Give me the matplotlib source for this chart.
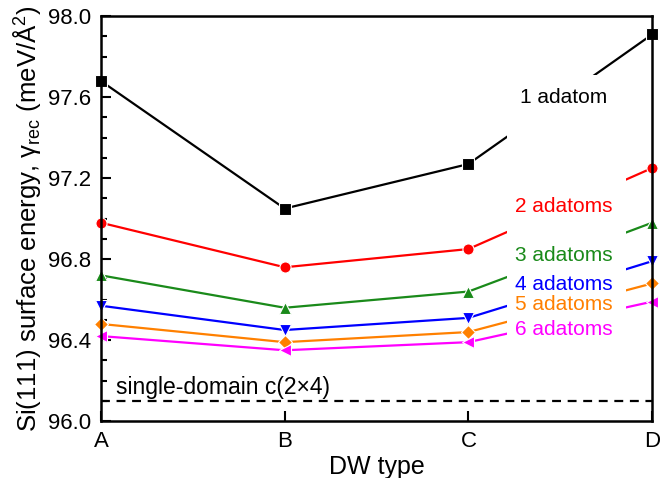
# Si(111) surface energy vs DW type

# Importing libraries
import matplotlib
matplotlib.use("Agg")
import matplotlib.pyplot as plt
from matplotlib.patches import Rectangle
from matplotlib.ticker import MultipleLocator, FormatStrFormatter

# Data
dw_types = ["A", "B", "C", "D"]
one_adatom = [97.68, 97.05, 97.27, 97.91]
two_adatoms = [96.98, 96.76, 96.85, 97.25]
three_adatoms = [96.72, 96.56, 96.64, 96.98]
four_adatoms = [96.57, 96.45, 96.51, 96.79]
five_adatoms = [96.48, 96.39, 96.44, 96.68]
six_adatoms = [96.42, 96.35, 96.39, 96.59]
single_domain = 96.10

series_labels = ["1 adatom", "2 adatoms", "3 adatoms", "4 adatoms", "5 adatoms", "6 adatoms"]
series_values = [one_adatom, two_adatoms, three_adatoms, four_adatoms, five_adatoms, six_adatoms]
colors = ["black", "#ff0000", "#1a8a1a", "#0000ff", "#ff8000", "#ff00ff"]
markers = ["s", "o", "^", "v", "D", "<"]
label_y = [97.60, 97.06, 96.82, 96.675, 96.575, 96.455]

plt.rcParams["font.family"] = ["Liberation Sans", "DejaVu Sans"]
plt.rcParams["mathtext.fontset"] = "custom"
plt.rcParams["mathtext.rm"] = "Liberation Sans"
plt.rcParams["mathtext.it"] = "Liberation Sans:italic"

fig = plt.figure(figsize=(6.6, 4.78), dpi=100)
ax = fig.add_axes([0.153, 0.119, 0.835, 0.847])

x = range(len(dw_types))
for vals, c, m in zip(series_values, colors, markers):
    ax.plot(x, vals, color=c, lw=1.6, marker=m, markersize=8 if m != "D" else 7,
            markeredgecolor="white", markeredgewidth=0.8, clip_on=False, zorder=2)

# white box behind the series labels (cuts the C-D segments)
ax.add_patch(Rectangle((2.21, 96.40), 0.65, 1.31, facecolor="white",
                       edgecolor="none", zorder=3))
for lab, y, c in zip(series_labels, label_y, colors):
    ax.text(2.52, y, lab, color=c, fontsize=15, ha="center", va="center", zorder=4)

ax.axhline(single_domain, color="black", ls="--", lw=1.6, dashes=(4, 3), zorder=1)
ax.text(0.08, 96.165, "single-domain c(2\u00d74)", fontsize=16.5, ha="left", va="center")

ax.set_xlim(0, 3)
ax.set_ylim(96.0, 98.0)
ax.set_xticks(list(x))
ax.set_xticklabels(dw_types)
ax.yaxis.set_major_locator(MultipleLocator(0.4))
ax.yaxis.set_minor_locator(MultipleLocator(0.1))
ax.yaxis.set_major_formatter(FormatStrFormatter("%.1f"))
ax.tick_params(axis="both", which="major", direction="in", length=7, width=1.5,
               labelsize=16, pad=7)
ax.tick_params(axis="y", which="minor", direction="in", length=4.5, width=1.5)
for sp in ax.spines.values():
    sp.set_linewidth(1.8)

ax.set_xlabel("DW type", fontsize=18, labelpad=2)
ax.set_ylabel("Si(111) surface energy, \u03b3$_{\\rm rec}$ (meV/\u00c5$^2$)", fontsize=18.5, labelpad=4)

fig.savefig("out.png", dpi=100)
